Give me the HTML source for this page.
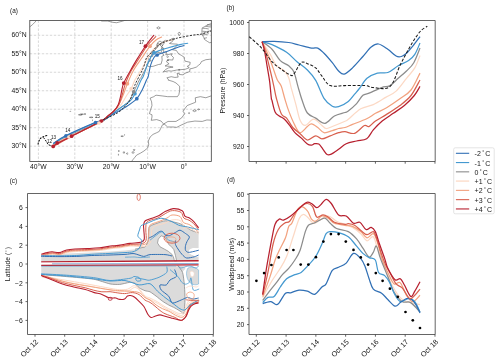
<!DOCTYPE html>
<html><head><meta charset="utf-8"><style>
html,body{margin:0;padding:0;background:#fff;}
svg{display:block;will-change:transform;}
text{font-family:"Liberation Sans", sans-serif;fill:#151515;}
</style></head><body>
<svg width="500" height="361" viewBox="0 0 500 361">
<rect width="500" height="361" fill="#fff"/>
<text x="10" y="13" font-size="6.4" text-anchor="start" >(a)</text>
<text x="226.6" y="10.2" font-size="6.4" text-anchor="start" >(b)</text>
<text x="9.7" y="182.7" font-size="6.4" text-anchor="start" >(c)</text>
<text x="227" y="181.5" font-size="6.4" text-anchor="start" >(d)</text>
<clipPath id="clipA"><rect x="29.8" y="20.5" width="181.5" height="141"/></clipPath>
<g clip-path="url(#clipA)">
<line x1="38.4" y1="20.5" x2="38.4" y2="161.5" stroke="#bdbdbd" stroke-width="0.6" stroke-dasharray="2.4,1.6"/>
<line x1="74.8" y1="20.5" x2="74.8" y2="161.5" stroke="#bdbdbd" stroke-width="0.6" stroke-dasharray="2.4,1.6"/>
<line x1="111.2" y1="20.5" x2="111.2" y2="161.5" stroke="#bdbdbd" stroke-width="0.6" stroke-dasharray="2.4,1.6"/>
<line x1="147.6" y1="20.5" x2="147.6" y2="161.5" stroke="#bdbdbd" stroke-width="0.6" stroke-dasharray="2.4,1.6"/>
<line x1="184" y1="20.5" x2="184" y2="161.5" stroke="#bdbdbd" stroke-width="0.6" stroke-dasharray="2.4,1.6"/>
<line x1="29.8" y1="146.2" x2="211.3" y2="146.2" stroke="#bdbdbd" stroke-width="0.6" stroke-dasharray="2.4,1.6"/>
<line x1="29.8" y1="127.71" x2="211.3" y2="127.71" stroke="#bdbdbd" stroke-width="0.6" stroke-dasharray="2.4,1.6"/>
<line x1="29.8" y1="109.23" x2="211.3" y2="109.23" stroke="#bdbdbd" stroke-width="0.6" stroke-dasharray="2.4,1.6"/>
<line x1="29.8" y1="90.74" x2="211.3" y2="90.74" stroke="#bdbdbd" stroke-width="0.6" stroke-dasharray="2.4,1.6"/>
<line x1="29.8" y1="72.26" x2="211.3" y2="72.26" stroke="#bdbdbd" stroke-width="0.6" stroke-dasharray="2.4,1.6"/>
<line x1="29.8" y1="53.77" x2="211.3" y2="53.77" stroke="#bdbdbd" stroke-width="0.6" stroke-dasharray="2.4,1.6"/>
<line x1="29.8" y1="35.29" x2="211.3" y2="35.29" stroke="#bdbdbd" stroke-width="0.6" stroke-dasharray="2.4,1.6"/>
<path d="M189.1,67.82 185.09,69.3 180.36,69.67 176.72,70.04 171.26,71.15 168.71,70.78 163.25,71.89 165.8,69.3 168.71,67.82 173.08,67.08 169.44,66.34 165.07,65.98 169.08,63.76 166.53,61.91 167.62,59.69 172.72,60.06 173.44,57.47 171.26,55.25 172.35,53.77 165.8,54.88 166.53,51.93 163.62,52.67 163.62,48.23 161.43,47.12 163.25,44.53 165.07,41.57 165.8,40.47 173.08,40.47 172.35,41.57 169.44,43.42 171.26,43.79 177.45,44.16 176.36,46.01 174.9,47.86 172.35,49.71 176.36,50.45 178.54,53.77 181.82,55.62 184.36,57.47 184.36,59.32 185.09,61.17 190.19,62.28 189.82,64.87 187.28,66.34 189.1,67.45Z" fill="none" stroke="#4d4d4d" stroke-width="0.55" stroke-linejoin="round"/>
<path d="M162.16,60.06 161.8,56.36 163.98,55.25 162.16,53.04 157.43,52.3 153.06,53.77 152.7,56.36 147.6,56.73 148.33,59.32 151.24,60.43 147.96,62.65 146.51,64.87 149.06,66.71 153.06,66.34 158.52,64.5 161.07,64.13Z" fill="none" stroke="#4d4d4d" stroke-width="0.55" stroke-linejoin="round"/>
<path d="M213.12,58.95 209.48,59.32 205.84,59.69 201.47,61.54 200.38,63.76 198.56,65.24 196.38,67.08 193.1,68.19 189.82,68.93 189.82,71.52 184.73,73.37 183.27,74.85 179.27,74.48 179.27,73.37 177.08,73.37 178.18,77.07 174.9,77.44 171.26,76.7 166.89,77.81 168.35,79.28 167.98,80.02 173.08,81.5 175.99,82.98 179.63,86.31 179.63,90.74 178.9,94.44 177.45,96.66 173.08,96.66 167.62,96.66 162.16,95.92 155.97,95.18 153.79,96.66 150.15,98.14 151.6,101.84 151.97,105.53 149.42,113.67 151.97,114.78 151.97,116.99 151.24,120.32 156.7,119.58 161.07,121.06 163.62,124.02 167.98,121.43 175.99,121.43 181.45,118.1 184.73,113.67 182.91,111.08 187.28,105.53 195.65,102.21 195.28,97.77 200.38,96.66 205.84,97.77 213.12,95.18" fill="none" stroke="#4d4d4d" stroke-width="0.55" stroke-linejoin="round"/>
<path d="M213.12,42.31 209.48,42.68 207.66,41.57 204.38,39.36 204.02,37.88 202.56,35.29 201.84,31.59 202.2,27.9 205.84,26.05 209.48,24.2 214.94,22.72 218.58,19.76" fill="none" stroke="#4d4d4d" stroke-width="0.55" stroke-linejoin="round"/>
<path d="M202.2,31.22 206.57,31.59 211.3,30.67" fill="none" stroke="#4d4d4d" stroke-width="0.55" stroke-linejoin="round"/>
<path d="M202.93,34.92 205.84,34.55 208.75,33.63" fill="none" stroke="#4d4d4d" stroke-width="0.55" stroke-linejoin="round"/>
<path d="M202.56,28.27 205.84,28.45 208.75,29.01" fill="none" stroke="#4d4d4d" stroke-width="0.55" stroke-linejoin="round"/>
<path d="M205.48,26.23 208.75,26.79 211.66,26.97" fill="none" stroke="#4d4d4d" stroke-width="0.55" stroke-linejoin="round"/>
<path d="M204.02,38.43 206.93,37.69" fill="none" stroke="#4d4d4d" stroke-width="0.55" stroke-linejoin="round"/>
<path d="M203.29,33.07 205.48,32.33" fill="none" stroke="#4d4d4d" stroke-width="0.55" stroke-linejoin="round"/>
<path d="M206.93,24.57 211.66,25.31" fill="none" stroke="#4d4d4d" stroke-width="0.55" stroke-linejoin="round"/>
<path d="M213.12,120.32 206.93,119.95 202.2,121.43 194.92,121.06 187.64,122.17 181.82,124.76 176.72,127.35 173.08,126.98 167.62,126.98 164.71,124.39 162.52,124.76 160.7,128.45 159.25,131.41 156.34,132.89 153.06,134.37 150.15,136.96 148.33,141.02 148.69,144.72 147.6,148.05 143.96,151.01 140.32,153.22 136.68,155.07 134.86,157.29 133.04,159.51 130.86,162.47" fill="none" stroke="#4d4d4d" stroke-width="0.55" stroke-linejoin="round"/>
<path d="M100.64,18.65 101.37,21.06 107.56,21.06 113.02,22.35 116.66,22.72 122.12,21.24 125.76,20.13 129.4,19.02" fill="none" stroke="#4d4d4d" stroke-width="0.55" stroke-linejoin="round"/>
<path d="M27.48,28.64 30.39,26.42 32.58,24.57 34.76,22.35 37.31,19.39" fill="none" stroke="#4d4d4d" stroke-width="0.55" stroke-linejoin="round"/>
<path d="M156.7,27.9 158.52,26.79 160.34,27.9 158.52,29.01Z" fill="none" stroke="#4d4d4d" stroke-width="0.55" stroke-linejoin="round"/>
<path d="M177.99,33.81 179.27,31.96 180.54,33.81 179.27,35.66Z" fill="none" stroke="#4d4d4d" stroke-width="0.55" stroke-linejoin="round"/>
<path d="M171.44,38.99 173.08,38.17 174.72,38.99 173.08,39.8Z" fill="none" stroke="#4d4d4d" stroke-width="0.55" stroke-linejoin="round"/>
<path d="M157.61,42.68 159.98,41.02 162.34,42.68 159.98,44.35Z" fill="none" stroke="#4d4d4d" stroke-width="0.55" stroke-linejoin="round"/>
<path d="M156.52,45.27 157.43,43.24 158.34,45.27 157.43,47.31Z" fill="none" stroke="#4d4d4d" stroke-width="0.55" stroke-linejoin="round"/>
<path d="M160.16,45.27 161.43,44.16 162.71,45.27 161.43,46.38Z" fill="none" stroke="#4d4d4d" stroke-width="0.55" stroke-linejoin="round"/>
<path d="M161.07,48.41 162.16,47.67 163.25,48.41 162.16,49.15Z" fill="none" stroke="#4d4d4d" stroke-width="0.55" stroke-linejoin="round"/>
<path d="M160.7,50.82 161.43,50.08 162.16,50.82 161.43,51.56Z" fill="none" stroke="#4d4d4d" stroke-width="0.55" stroke-linejoin="round"/>
<path d="M166.71,56.73 167.62,55.99 168.53,56.73 167.62,57.47Z" fill="none" stroke="#4d4d4d" stroke-width="0.55" stroke-linejoin="round"/>
<path d="M167.07,60.24 167.98,59.8 168.89,60.24 167.98,60.69Z" fill="none" stroke="#4d4d4d" stroke-width="0.55" stroke-linejoin="round"/>
<path d="M178.36,69.86 179.27,69.49 180.18,69.86 179.27,70.23Z" fill="none" stroke="#4d4d4d" stroke-width="0.55" stroke-linejoin="round"/>
<path d="M192.74,110.71 194.56,109.78 196.38,110.71 194.56,111.63Z" fill="none" stroke="#4d4d4d" stroke-width="0.55" stroke-linejoin="round"/>
<path d="M197.47,109.41 198.56,108.97 199.65,109.41 198.56,109.86Z" fill="none" stroke="#4d4d4d" stroke-width="0.55" stroke-linejoin="round"/>
<path d="M188.37,113.11 189.1,112.56 189.82,113.11 189.1,113.67Z" fill="none" stroke="#4d4d4d" stroke-width="0.55" stroke-linejoin="round"/>
<path d="M133.22,149.9 134.13,148.97 135.04,149.9 134.13,150.82Z" fill="none" stroke="#4d4d4d" stroke-width="0.55" stroke-linejoin="round"/>
<path d="M131.77,152.48 133.04,151.56 134.31,152.48 133.04,153.41Z" fill="none" stroke="#4d4d4d" stroke-width="0.55" stroke-linejoin="round"/>
<path d="M126.31,153.59 127.22,152.85 128.13,153.59 127.22,154.33Z" fill="none" stroke="#4d4d4d" stroke-width="0.55" stroke-linejoin="round"/>
<path d="M122.85,152.48 123.94,151.75 125.03,152.48 123.94,153.22Z" fill="none" stroke="#4d4d4d" stroke-width="0.55" stroke-linejoin="round"/>
<path d="M118.3,151.01 118.84,150.27 119.39,151.01 118.84,151.75Z" fill="none" stroke="#4d4d4d" stroke-width="0.55" stroke-linejoin="round"/>
<path d="M117.93,154.7 118.48,154.33 119.03,154.7 118.48,155.07Z" fill="none" stroke="#4d4d4d" stroke-width="0.55" stroke-linejoin="round"/>
<path d="M120.85,136.22 122.12,135.77 123.39,136.22 122.12,136.66Z" fill="none" stroke="#4d4d4d" stroke-width="0.55" stroke-linejoin="round"/>
<path d="M124.3,134.92 124.67,134.7 125.03,134.92 124.67,135.15Z" fill="none" stroke="#4d4d4d" stroke-width="0.55" stroke-linejoin="round"/>
<path d="M70.07,111.45 70.43,111.08 70.8,111.45 70.43,111.82Z" fill="none" stroke="#4d4d4d" stroke-width="0.55" stroke-linejoin="round"/>
<path d="M78.44,114.78 80.26,114.22 82.08,114.78 80.26,115.33Z" fill="none" stroke="#4d4d4d" stroke-width="0.55" stroke-linejoin="round"/>
<path d="M80.62,114.22 82.08,113.85 83.54,114.22 82.08,114.59Z" fill="none" stroke="#4d4d4d" stroke-width="0.55" stroke-linejoin="round"/>
<path d="M84.08,114.04 84.99,113.67 85.9,114.04 84.99,114.41Z" fill="none" stroke="#4d4d4d" stroke-width="0.55" stroke-linejoin="round"/>
<path d="M89.36,117.36 91.18,116.99 93,117.36 91.18,117.73Z" fill="none" stroke="#4d4d4d" stroke-width="0.55" stroke-linejoin="round"/>
<path d="M92.27,120.32 92.64,120.03 93,120.32 92.64,120.62Z" fill="none" stroke="#4d4d4d" stroke-width="0.55" stroke-linejoin="round"/>
<path d="M54,144.5C56.33,143.25 60.67,140.55 68,137C75.33,133.45 92,125.98 98,123.2C104,120.42 101.67,122 104,120.3C106.33,118.6 109.33,115.35 112,113C114.67,110.65 117.63,109 120,106.2C122.37,103.4 124.33,99.12 126.2,96.2C128.07,93.28 129.75,91.4 131.2,88.7C132.65,86 133.73,82.3 134.9,80C136.07,77.7 136.53,77.7 138.2,74.9C139.87,72.1 142.8,66.93 144.9,63.2C147,59.47 148.62,55.45 150.8,52.5C152.98,49.55 155.63,47.32 158,45.5C160.37,43.68 162.6,42.52 165,41.6C167.4,40.68 171.17,40.27 172.4,40" fill="none" stroke="#fcd9c5" stroke-width="1.1" stroke-linecap="round" />
<path d="M54,144.8C56.33,143.55 60.67,140.85 68,137.3C75.33,133.75 92,126.33 98,123.5C104,120.67 101.67,122.05 104,120.3C106.33,118.55 109.45,115.77 112,113C114.55,110.23 117.35,106.92 119.3,103.7C121.25,100.48 122.35,97.03 123.7,93.7C125.05,90.37 125.8,87.53 127.4,83.7C129,79.87 130.93,74.93 133.3,70.7C135.67,66.47 138.82,62.38 141.6,58.3C144.38,54.22 147.6,49.25 150,46.2C152.4,43.15 154.07,41.52 156,40C157.93,38.48 160.67,37.58 161.6,37.1" fill="none" stroke="#f2a27f" stroke-width="1.1" stroke-linecap="round" />
<path d="M54,144C56.08,142.75 59.42,139.93 66.5,136.5C73.58,133.07 90.25,126.07 96.5,123.4C102.75,120.73 100.52,122.73 104,120.5C107.48,118.27 113.28,113.22 117.4,110C121.52,106.78 125.98,104.23 128.7,101.2C131.42,98.17 131.93,95.33 133.7,91.8C135.47,88.27 137.98,82.55 139.3,80C140.62,77.45 140.12,79.3 141.6,76.5C143.08,73.7 146.47,66.95 148.2,63.2C149.93,59.45 150.73,56.37 152,54C153.27,51.63 154.47,50.67 155.8,49C157.13,47.33 158.47,45.42 160,44C161.53,42.58 164.17,41.08 165,40.5" fill="none" stroke="#8c8c8c" stroke-width="1.0" stroke-linecap="round" />
<path d="M53.8,143.6C55.83,142.33 59.03,139.47 66,136C72.97,132.53 89.27,125.47 95.6,122.8C101.93,120.13 100.37,122.13 104,120C107.63,117.87 113.08,113.13 117.4,110C121.72,106.87 126.98,103.92 129.9,101.2C132.82,98.48 133.03,97.23 134.9,93.7C136.77,90.17 139.72,82.87 141.1,80C142.48,77.13 142.05,79.33 143.2,76.5C144.35,73.67 146.87,65.92 148,63C149.13,60.08 149.08,60.58 150,59C150.92,57.42 151.83,54.95 153.5,53.5C155.17,52.05 157.4,51.3 160,50.3C162.6,49.3 165.77,48.45 169.1,47.5C172.43,46.55 176.9,45.3 180,44.6C183.1,43.9 186.42,43.52 187.7,43.3" fill="none" stroke="#4499d0" stroke-width="1.1" stroke-linecap="round" />
<path d="M53.5,143.2C55.58,141.93 58.98,139.08 66,135.6C73.02,132.12 89.27,124.97 95.6,122.3C101.93,119.63 100.98,121.03 104,119.6C107.02,118.17 110,115.83 113.7,113.7C117.4,111.57 122.35,109.3 126.2,106.8C130.05,104.3 134.1,101.6 136.8,98.7C139.5,95.8 140.78,92.52 142.4,89.4C144.02,86.28 145.53,82.15 146.5,80C147.47,77.85 147.5,79.02 148.2,76.5C148.9,73.98 149.73,68.07 150.7,64.9C151.67,61.73 152.93,59.15 154,57.5C155.07,55.85 155.27,55.92 157.1,55C158.93,54.08 162.3,52.98 165,52C167.7,51.02 170.8,50 173.3,49.1C175.8,48.2 178.22,47.2 180,46.6C181.78,46 183.33,45.68 184,45.5" fill="none" stroke="#3170b5" stroke-width="1.1" stroke-linecap="round" />
<path d="M53.2,146.4C56.27,144.73 63.6,140.6 71.6,136.4C79.6,132.2 95.13,124.6 101.2,121.2C107.27,117.8 105.87,117.7 108,116C110.13,114.3 112.17,112.92 114,111C115.83,109.08 117.67,107.08 119,104.5C120.33,101.92 121.2,98.08 122,95.5C122.8,92.92 123.13,91.25 123.8,89C124.47,86.75 124.8,85 126,82C127.2,79 129,74.67 131,71C133,67.33 135.47,64 138,60C140.53,56 144.03,50.08 146.2,47C148.37,43.92 149.4,43.22 151,41.5C152.6,39.78 155,37.5 155.8,36.7" fill="none" stroke="#d8604e" stroke-width="1.1" stroke-linecap="round" />
<path d="M53.2,146.6C53.87,146.05 54.13,145.03 57.2,143.3C60.27,141.57 64.27,139.92 71.6,136.2C78.93,132.48 95.22,124.33 101.2,121C107.18,117.67 105.42,117.83 107.5,116.2C109.58,114.57 111.93,113.08 113.7,111.2C115.47,109.32 116.95,107.4 118.1,104.9C119.25,102.4 119.98,98.68 120.6,96.2C121.22,93.72 121.28,92.18 121.8,90C122.32,87.82 122.35,86.18 123.7,83.1C125.05,80.02 127.75,75.37 129.9,71.5C132.05,67.63 134.02,64.12 136.6,59.9C139.18,55.68 142.55,50.28 145.4,46.2C148.25,42.12 152.32,37.2 153.7,35.4" fill="none" stroke="#b7202f" stroke-width="1.1" stroke-linecap="round" />
<path d="M100,121C102.9,119.67 113.03,115.68 117.4,113C121.77,110.32 123.9,107.48 126.2,104.9C128.5,102.32 129.75,100.82 131.2,97.5C132.65,94.18 132.9,89.88 134.9,85C136.9,80.12 141.23,72.78 143.2,68.2C145.17,63.62 145.15,60.27 146.7,57.5C148.25,54.73 150.85,53.42 152.5,51.6C154.15,49.78 155.08,47.98 156.6,46.6C158.12,45.22 159.78,44.27 161.6,43.3C163.42,42.33 165.55,41.48 167.5,40.8C169.45,40.12 171.22,39.75 173.3,39.2C175.38,38.65 176.58,38.2 180,37.5C183.42,36.8 190.13,35.58 193.8,35C197.47,34.42 199.13,34.67 202,34C204.87,33.33 209.5,31.5 211,31" fill="none" stroke="#222" stroke-width="0.9" stroke-dasharray="2.2,1.3"/>
<path d="M37.9,144.5C38.1,143.88 38.6,141.88 39.1,140.8C39.6,139.72 40.08,138.72 40.9,138C41.72,137.28 42.88,136.95 44,136.5C45.12,136.05 47,135.5 47.6,135.3" fill="none" stroke="#111" stroke-width="1.1" stroke-dasharray="1.9,1.1"/>
<path d="M43.5,137.5C43.92,138.08 45.22,139.83 46,141C46.78,142.17 47.32,143.72 48.2,144.5C49.08,145.28 50.47,145.38 51.3,145.7C52.13,146.02 52.88,146.28 53.2,146.4" fill="none" stroke="#111" stroke-width="1.0" stroke-dasharray="1.9,1.1"/>
<circle cx="66" cy="135.8" r="1.85" fill="#3170b5"/>
<circle cx="95.6" cy="122.5" r="1.85" fill="#3170b5"/>
<circle cx="69" cy="137" r="1.85" fill="#fcd9c5"/>
<circle cx="71.6" cy="136.2" r="1.85" fill="#b7202f"/>
<circle cx="101.2" cy="121" r="1.85" fill="#b7202f"/>
<circle cx="57.2" cy="142.9" r="1.85" fill="#b7202f"/>
<circle cx="53.2" cy="146.4" r="1.85" fill="#b7202f"/>
<circle cx="99" cy="123" r="1.85" fill="#fcd9c5"/>
<circle cx="136.8" cy="98.7" r="1.85" fill="#3170b5"/>
<circle cx="134.9" cy="93.7" r="1.85" fill="#4499d0"/>
<circle cx="133.7" cy="91.8" r="1.85" fill="#8c8c8c"/>
<circle cx="131.2" cy="88.7" r="1.85" fill="#fcd9c5"/>
<circle cx="127.4" cy="83.7" r="1.85" fill="#f2a27f"/>
<circle cx="123.7" cy="83.1" r="1.85" fill="#b7202f"/>
<circle cx="153" cy="52.5" r="1.85" fill="#8c8c8c"/>
<circle cx="154.1" cy="52.8" r="1.85" fill="#4499d0"/>
<circle cx="157.1" cy="55" r="1.85" fill="#3170b5"/>
<circle cx="150" cy="46.2" r="1.85" fill="#f2a27f"/>
<circle cx="145.4" cy="46.2" r="1.85" fill="#b7202f"/>
<text x="47" y="142.5" font-size="4.6" text-anchor="start" >12</text>
<text x="51" y="138.5" font-size="4.6" text-anchor="start" >13</text>
<text x="65.2" y="131.5" font-size="4.6" text-anchor="start" >14</text>
<text x="94.8" y="117.8" font-size="4.6" text-anchor="start" >15</text>
<text x="117.4" y="79.8" font-size="4.6" text-anchor="start" >16</text>
<text x="139" y="43.8" font-size="4.6" text-anchor="start" >17</text>
</g>
<rect x="29.8" y="20.5" width="181.5" height="141" fill="none" stroke="#3d3d3d" stroke-width="0.8"/>
<text x="26.6" y="148.4" font-size="6.8" text-anchor="end" >30°N</text>
<text x="26.6" y="129.91" font-size="6.8" text-anchor="end" >35°N</text>
<text x="26.6" y="111.43" font-size="6.8" text-anchor="end" >40°N</text>
<text x="26.6" y="92.94" font-size="6.8" text-anchor="end" >45°N</text>
<text x="26.6" y="74.46" font-size="6.8" text-anchor="end" >50°N</text>
<text x="26.6" y="55.97" font-size="6.8" text-anchor="end" >55°N</text>
<text x="26.6" y="37.49" font-size="6.8" text-anchor="end" >60°N</text>
<text x="38.4" y="168.8" font-size="6.8" text-anchor="middle" >40°W</text>
<text x="74.8" y="168.8" font-size="6.8" text-anchor="middle" >30°W</text>
<text x="111.2" y="168.8" font-size="6.8" text-anchor="middle" >20°W</text>
<text x="147.6" y="168.8" font-size="6.8" text-anchor="middle" >10°W</text>
<text x="184" y="168.8" font-size="6.8" text-anchor="middle" >0°</text>
<path d="M249,20.5 V161.5 H435.2 V20.5 H249 Z" fill="none" stroke="#3d3d3d" stroke-width="0.8"/>
<line x1="247" y1="22.5" x2="249" y2="22.5" stroke="#3d3d3d" stroke-width="0.8"/>
<text x="244.3" y="25.3" font-size="6.8" text-anchor="end" >1000</text>
<line x1="247" y1="53.5" x2="249" y2="53.5" stroke="#3d3d3d" stroke-width="0.8"/>
<text x="244.3" y="56.3" font-size="6.8" text-anchor="end" >980</text>
<line x1="247" y1="84.5" x2="249" y2="84.5" stroke="#3d3d3d" stroke-width="0.8"/>
<text x="244.3" y="87.3" font-size="6.8" text-anchor="end" >960</text>
<line x1="247" y1="115.5" x2="249" y2="115.5" stroke="#3d3d3d" stroke-width="0.8"/>
<text x="244.3" y="118.3" font-size="6.8" text-anchor="end" >940</text>
<line x1="247" y1="146.5" x2="249" y2="146.5" stroke="#3d3d3d" stroke-width="0.8"/>
<text x="244.3" y="149.3" font-size="6.8" text-anchor="end" >920</text>
<line x1="256.3" y1="161.5" x2="256.3" y2="163.7" stroke="#3d3d3d" stroke-width="0.8"/>
<line x1="286.08" y1="161.5" x2="286.08" y2="163.7" stroke="#3d3d3d" stroke-width="0.8"/>
<line x1="315.86" y1="161.5" x2="315.86" y2="163.7" stroke="#3d3d3d" stroke-width="0.8"/>
<line x1="345.64" y1="161.5" x2="345.64" y2="163.7" stroke="#3d3d3d" stroke-width="0.8"/>
<line x1="375.42" y1="161.5" x2="375.42" y2="163.7" stroke="#3d3d3d" stroke-width="0.8"/>
<line x1="405.2" y1="161.5" x2="405.2" y2="163.7" stroke="#3d3d3d" stroke-width="0.8"/>
<line x1="434.98" y1="161.5" x2="434.98" y2="163.7" stroke="#3d3d3d" stroke-width="0.8"/>
<text transform="translate(225.4,90.7) rotate(-90)" font-size="6.8" text-anchor="middle">Pressure (hPa)</text>
<clipPath id="clipB"><rect x="249" y="20.5" width="186.2" height="141"/></clipPath>
<g clip-path="url(#clipB)">
<path d="M262.1,41.7C263.48,43.85 268.03,50.65 270.4,54.6C272.77,58.55 273.93,62.63 276.3,65.4C278.67,68.17 282.53,69.13 284.6,71.2C286.67,73.27 287.6,75.03 288.7,77.8C289.8,80.57 290,83.33 291.2,87.8C292.4,92.27 294.42,99.2 295.9,104.6C297.38,110 298.53,116.73 300.1,120.2C301.67,123.67 303.05,125.57 305.3,125.4C307.55,125.23 310.83,119.2 313.6,119.2C316.37,119.2 319.82,123.85 321.9,125.4C323.98,126.95 324.37,128.32 326.1,128.5C327.83,128.68 329.15,127.7 332.3,126.5C335.45,125.3 342.33,122.52 345,121.3C347.67,120.08 345.67,121.28 348.3,119.2C350.93,117.12 356.63,111.23 360.8,108.8C364.97,106.37 369.15,106.5 373.3,104.6C377.45,102.7 381.9,99.65 385.7,97.4C389.5,95.15 392.63,94.28 396.1,91.1C399.57,87.92 403.38,82.17 406.5,78.3C409.62,74.43 412.55,71.72 414.8,67.9C417.05,64.08 419.13,57.48 420,55.4" fill="none" stroke="#fcd9c5" stroke-width="1.25" stroke-linejoin="round"/>
<path d="M262.1,41.7C263.08,43.85 266.18,50.23 268,54.6C269.82,58.97 271.48,63.75 273,67.9C274.52,72.05 275.73,76.47 277.1,79.5C278.47,82.53 279.95,83.02 281.2,86.1C282.45,89.18 283.35,93.87 284.6,98C285.85,102.13 286.98,106.33 288.7,110.9C290.42,115.47 293,121.77 294.9,125.4C296.8,129.03 298.02,132.52 300.1,132.7C302.18,132.88 305.5,127.98 307.4,126.5C309.3,125.02 309.77,123.63 311.5,123.8C313.23,123.97 315.72,126.02 317.8,127.5C319.88,128.98 321.58,132.18 324,132.7C326.42,133.22 329.87,131.3 332.3,130.6C334.73,129.9 336.48,129.02 338.6,128.5C340.72,127.98 342.68,128.18 345,127.5C347.32,126.82 348.88,125.85 352.5,124.4C356.12,122.95 362.87,120.65 366.7,118.8C370.53,116.95 372.18,115.15 375.5,113.3C378.82,111.45 382.53,110.12 386.6,107.7C390.67,105.28 395.83,101.75 399.9,98.8C403.97,95.85 407.65,94.28 411,90C414.35,85.72 418.5,75.92 420,73.1" fill="none" stroke="#f2a27f" stroke-width="1.25" stroke-linejoin="round"/>
<path d="M262.1,41.7C263.75,42.95 268.97,46.05 272,49.2C275.03,52.35 277.52,57.83 280.3,60.6C283.08,63.37 286.43,63.9 288.7,65.8C290.97,67.7 292.35,68.53 293.9,72C295.45,75.47 296.62,81.85 298,86.6C299.38,91.35 300.63,96.1 302.2,100.5C303.77,104.9 305.15,110.07 307.4,113C309.65,115.93 312.77,116.38 315.7,118.1C318.63,119.82 321.88,123.65 325,123.3C328.12,122.95 331.07,117.8 334.4,116C337.73,114.2 342.68,113.35 345,112.5C347.32,111.65 346.37,112.38 348.3,110.9C350.23,109.42 354.17,106.2 356.6,103.6C359.03,101 360.82,97.03 362.9,95.3C364.98,93.57 365.98,94.48 369.1,93.2C372.22,91.92 378.12,88.87 381.6,87.6C385.08,86.33 387.23,87.15 390,85.6C392.77,84.05 395.45,80.73 398.2,78.3C400.95,75.87 403.9,73.6 406.5,71C409.1,68.4 411.55,66.52 413.8,62.7C416.05,58.88 418.97,50.53 420,48.1" fill="none" stroke="#8c8c8c" stroke-width="1.25" stroke-linejoin="round"/>
<path d="M262.1,41.7C263.75,42.18 267.92,42.83 272,44.6C276.08,46.37 282.43,49.45 286.6,52.3C290.77,55.15 293.53,58.75 297,61.7C300.47,64.65 304.28,66.88 307.4,70C310.52,73.12 312.93,75.67 315.7,80.4C318.47,85.13 321.23,94.08 324,98.4C326.77,102.72 329.87,104.92 332.3,106.3C334.73,107.68 335.93,107.5 338.6,106.7C341.27,105.9 345.63,103.58 348.3,101.5C350.97,99.42 352.68,96.45 354.6,94.2C356.52,91.95 357.73,90.65 359.8,88C361.87,85.35 364.07,80.78 367,78.3C369.93,75.82 373.93,74.07 377.4,73.1C380.87,72.13 384.33,73.72 387.8,72.5C391.27,71.28 394.73,67.78 398.2,65.8C401.67,63.82 405.83,62.5 408.6,60.6C411.37,58.7 412.9,57.33 414.8,54.4C416.7,51.47 419.13,44.9 420,43" fill="none" stroke="#4499d0" stroke-width="1.25" stroke-linejoin="round"/>
<path d="M262.1,41.7C264.1,41.63 269.67,41.17 274.1,41.3C278.53,41.43 284.55,41.88 288.7,42.5C292.85,43.12 295.2,44.07 299,45C302.8,45.93 308.37,47.58 311.5,48.1C314.63,48.62 315.72,47.23 317.8,48.1C319.88,48.97 321.58,50.87 324,53.3C326.42,55.73 329.87,59.75 332.3,62.7C334.73,65.65 336.62,69.1 338.6,71C340.58,72.9 341.88,74.62 344.2,74.1C346.52,73.58 349.38,70.83 352.5,67.9C355.62,64.97 359.78,59.97 362.9,56.5C366.02,53.03 368.6,49.18 371.2,47.1C373.8,45.02 375.73,43.65 378.5,44C381.27,44.35 384.87,47.2 387.8,49.2C390.73,51.2 393.85,54.78 396.1,56C398.35,57.22 399.57,56.95 401.3,56.5C403.03,56.05 404.58,55.03 406.5,53.3C408.42,51.57 410.55,48.87 412.8,46.1C415.05,43.33 418.8,38.27 420,36.7" fill="none" stroke="#3170b5" stroke-width="1.25" stroke-linejoin="round"/>
<path d="M262.1,41.7C262.8,43.85 264.92,49.68 266.3,54.6C267.68,59.52 269.15,65.95 270.4,71.2C271.65,76.45 272.82,81.63 273.8,86.1C274.78,90.57 275.03,93.35 276.3,98C277.57,102.65 279.68,110.65 281.4,114C283.12,117.35 284.7,115.85 286.6,118.1C288.5,120.35 290.55,124.9 292.8,127.5C295.05,130.1 297.67,131.62 300.1,133.7C302.53,135.78 304.8,139.65 307.4,140C310,140.35 313.28,135.98 315.7,135.8C318.12,135.62 319.48,138.9 321.9,138.9C324.32,138.9 327.42,136.83 330.2,135.8C332.98,134.77 336.13,133.38 338.6,132.7C341.07,132.02 342.33,131.6 345,131.7C347.67,131.8 351.37,134.33 354.6,133.3C357.83,132.27 362.02,126.62 364.4,125.5C366.78,124.38 367.05,127.35 368.9,126.6C370.75,125.85 372.55,123.03 375.5,121C378.45,118.97 382.53,116.98 386.6,114.4C390.67,111.82 395.83,108.65 399.9,105.5C403.97,102.35 407.65,99.75 411,95.5C414.35,91.25 418.5,82.58 420,80" fill="none" stroke="#d8604e" stroke-width="1.25" stroke-linejoin="round"/>
<path d="M262.1,41.7C262.52,43.3 263.77,47.22 264.6,51.3C265.43,55.38 266.27,61.22 267.1,66.2C267.93,71.18 268.9,75.9 269.6,81.2C270.3,86.5 270.9,94.78 271.3,98C271.7,101.22 271.37,98.18 272,100.5C272.63,102.82 273.88,109.32 275.1,111.9C276.32,114.48 277.73,114.78 279.3,116C280.87,117.22 282.77,117.63 284.5,119.2C286.23,120.77 287.97,123.15 289.7,125.4C291.43,127.65 293,130.62 294.9,132.7C296.8,134.78 299.02,136 301.1,137.9C303.18,139.8 305.67,142.88 307.4,144.1C309.13,145.32 310.3,145.27 311.5,145.2C312.7,145.13 313.38,143.88 314.6,143.7C315.82,143.52 317.4,143.17 318.8,144.1C320.2,145.03 321.62,147.57 323,149.3C324.38,151.03 325.72,153.7 327.1,154.5C328.48,155.3 329.38,154.97 331.3,154.1C333.22,153.23 336.12,151.03 338.6,149.3C341.08,147.57 343.2,145.08 346.2,143.7C349.2,142.32 353.18,141.82 356.6,141C360.02,140.18 363.92,140.65 366.7,138.8C369.48,136.95 370.72,132.87 373.3,129.9C375.88,126.93 378.87,123.77 382.2,121C385.53,118.23 389.6,115.88 393.3,113.3C397,110.72 400.9,108.47 404.4,105.5C407.9,102.53 411.7,98.68 414.3,95.5C416.9,92.32 419.05,87.92 420,86.4" fill="none" stroke="#b7202f" stroke-width="1.25" stroke-linejoin="round"/>
<path d="M249.2,36.7C251.27,38.6 257.8,43.93 261.6,48.1C265.4,52.27 268.53,58.05 272,61.7C275.47,65.35 279.28,67.75 282.4,70C285.52,72.25 288.78,74.52 290.7,75.2C292.62,75.88 292.17,76.18 293.9,74.1C295.63,72.02 298.85,64.43 301.1,62.7C303.35,60.97 304.97,62.83 307.4,63.7C309.83,64.57 313.27,65.82 315.7,67.9C318.13,69.98 319.58,73.25 322,76.2C324.42,79.15 326.37,84.03 330.2,85.6C334.03,87.17 339.2,85.6 345,85.6C350.8,85.6 360.28,85.27 365,85.6C369.72,85.93 369.15,87.43 373.3,87.6C377.45,87.77 385.4,90.4 389.9,86.6C394.4,82.8 397.18,71.03 400.3,64.8C403.42,58.57 406.18,53.53 408.6,49.2C411.02,44.87 412.72,41.92 414.8,38.8C416.88,35.68 419.02,32.58 421.1,30.5C423.18,28.42 426.27,27 427.3,26.3" fill="none" stroke="#1a1a1a" stroke-width="1.05" stroke-dasharray="3,1.7"/>
</g>
<rect x="453.7" y="147.8" width="40.5" height="66" rx="1.5" fill="#fff" stroke="#d9d9d9" stroke-width="0.7"/>
<line x1="455.9" y1="153.3" x2="469.2" y2="153.3" stroke="#3170b5" stroke-width="1.1" stroke-opacity="1"/>
<text x="474.6" y="156.3" font-size="7">-2<tspan font-size="4.6" dy="-1.9" dx="1.3">°</tspan><tspan dy="1.9" dx="1.2">C</tspan></text>
<line x1="455.9" y1="162.57" x2="469.2" y2="162.57" stroke="#4499d0" stroke-width="1.1" stroke-opacity="1"/>
<text x="474.6" y="165.57" font-size="7">-1<tspan font-size="4.6" dy="-1.9" dx="1.3">°</tspan><tspan dy="1.9" dx="1.2">C</tspan></text>
<line x1="455.9" y1="171.84" x2="469.2" y2="171.84" stroke="#8c8c8c" stroke-width="1.1" stroke-opacity="1"/>
<text x="474.6" y="174.84" font-size="7">0<tspan font-size="4.6" dy="-1.9" dx="1.3">°</tspan><tspan dy="1.9" dx="1.2">C</tspan></text>
<line x1="455.9" y1="181.11" x2="469.2" y2="181.11" stroke="#fcd9c5" stroke-width="1.6" stroke-opacity="0.8"/>
<text x="474.6" y="184.11" font-size="7">+1<tspan font-size="4.6" dy="-1.9" dx="1.3">°</tspan><tspan dy="1.9" dx="1.2">C</tspan></text>
<line x1="455.9" y1="190.38" x2="469.2" y2="190.38" stroke="#f2a27f" stroke-width="1.1" stroke-opacity="1"/>
<text x="474.6" y="193.38" font-size="7">+2<tspan font-size="4.6" dy="-1.9" dx="1.3">°</tspan><tspan dy="1.9" dx="1.2">C</tspan></text>
<line x1="455.9" y1="199.65" x2="469.2" y2="199.65" stroke="#d8604e" stroke-width="1.1" stroke-opacity="1"/>
<text x="474.6" y="202.65" font-size="7">+3<tspan font-size="4.6" dy="-1.9" dx="1.3">°</tspan><tspan dy="1.9" dx="1.2">C</tspan></text>
<line x1="455.9" y1="208.92" x2="469.2" y2="208.92" stroke="#b7202f" stroke-width="1.8" stroke-opacity="0.6"/>
<text x="474.6" y="211.92" font-size="7">+4<tspan font-size="4.6" dy="-1.9" dx="1.3">°</tspan><tspan dy="1.9" dx="1.2">C</tspan></text>
<clipPath id="clipC"><rect x="27.5" y="193.5" width="185.9" height="141"/></clipPath>
<g clip-path="url(#clipC)">
<path d="M41.2,256.2 52,255 66.6,253.6 90,252.6 110,251.4 125,250.4 135,249.2 141,247.8 145.5,246.5 148.2,240 148.6,230 150,226.2 156.9,223.3 165.2,220.8 175,222.3 182.2,224.6 191.2,230.3 198.6,232.8 198.6,248 192,248.5 189,253 196,257 198.6,256.5 198.6,260.9 41.2,261.5Z" fill="#dbdbdb" stroke="none"/>
<path d="M135,249.2C135.8,249.01 139.6,248.16 141,247.8C142.4,247.44 144.54,247.54 145.5,246.5C146.46,245.46 147.79,242.2 148.2,240C148.61,237.8 148.36,231.84 148.6,230C148.84,228.16 148.89,227.09 150,226.2C151.11,225.31 154.87,224.02 156.9,223.3C158.93,222.58 162.79,220.93 165.2,220.8C167.61,220.67 172.73,221.79 175,222.3C177.27,222.81 180.04,223.53 182.2,224.6C184.36,225.67 189.01,229.21 191.2,230.3C193.39,231.39 197.61,232.47 198.6,232.8" fill="none" stroke="#8a8a8a" stroke-width="0.8"/>
<path d="M157.5,243 158.3,239.1 161.1,235.8 164.4,236.9 166.6,240.2 168.8,244.6 171.6,246.8 173.8,249.6 175.5,255.7 176.6,260.9 174.4,260.9 173.8,258 172.2,254.6 168.3,251.3 164.4,249.1 160,246.8Z" fill="#fff" stroke="#8a8a8a" stroke-width="0.7"/>
<path d="M189,250 C193,247 198.6,248 198.6,250 L198.6,255 C195,256 191,255 189,253Z" fill="#fff" stroke="none"/>
<path d="M41.2,265.6C54.86,265.58 163.66,264.71 177.8,265.4C191.94,266.09 181.95,270.64 182.6,272.5C183.25,274.36 184.07,281.75 184.3,284C184.53,286.25 184.84,293.16 184.9,295C184.96,296.84 184.96,300.9 184.9,302.4C184.84,303.9 184.42,308.87 184.3,310C184.18,311.13 184.01,313.52 183.7,313.7C183.39,313.88 182.08,312.37 181.2,311.8C180.32,311.23 176.15,308.68 174.9,308C173.65,307.32 169.94,305.68 168.7,305C167.46,304.32 163.75,302.08 162.5,301.2C161.25,300.32 157.45,297.14 156.2,296.2C154.95,295.26 151.12,292.35 150,291.8C148.88,291.25 146.09,291.1 145,290.7C143.91,290.3 140.17,288.58 139.1,287.8C138.03,287.02 135.27,283.44 134.3,282.9C133.33,282.36 130.86,282.25 129.4,282.4C127.94,282.55 121.64,284.25 119.7,284.4C117.76,284.55 112.61,284.42 110,283.9C107.39,283.38 97.94,279.93 93.6,279.2C89.26,278.47 71.84,277.06 66.6,276.6C61.36,276.14 43.74,274.8 41.2,274.6Z" fill="#dbdbdb" stroke="none"/>
<path d="M177.8,265.4C178.28,266.11 181.95,270.64 182.6,272.5C183.25,274.36 184.07,281.75 184.3,284C184.53,286.25 184.84,293.16 184.9,295C184.96,296.84 184.96,300.9 184.9,302.4C184.84,303.9 184.42,308.87 184.3,310C184.18,311.13 184.01,313.52 183.7,313.7C183.39,313.88 182.08,312.37 181.2,311.8C180.32,311.23 176.15,308.68 174.9,308C173.65,307.32 169.94,305.68 168.7,305C167.46,304.32 163.75,302.08 162.5,301.2C161.25,300.32 157.45,297.14 156.2,296.2C154.95,295.26 151.12,292.35 150,291.8C148.88,291.25 146.09,291.1 145,290.7C143.91,290.3 140.17,288.58 139.1,287.8C138.03,287.02 135.27,283.44 134.3,282.9C133.33,282.36 130.86,282.25 129.4,282.4C127.94,282.55 121.64,284.25 119.7,284.4C117.76,284.55 112.61,284.42 110,283.9C107.39,283.38 97.94,279.93 93.6,279.2C89.26,278.47 71.84,277.06 66.6,276.6C61.36,276.14 43.74,274.8 41.2,274.6" fill="none" stroke="#8a8a8a" stroke-width="0.8"/>
<path d="M188,268 C192,266 197,268 198.6,270 L198.6,284 C195,286 190,284 188,280 C186,276 186,271 188,268Z" fill="#dbdbdb" stroke="#4499d0" stroke-width="0.6" stroke-opacity="0.7"/>
<path d="M190,272 C192,270 195,272 194,275 C193,278 190,277 190,272Z" fill="#fff" stroke="#fcd9c5" stroke-width="0.6"/>
<path d="M42,256.8C42.77,256.58 44.8,255.9 46.6,255.5C48.4,255.1 50.55,254.45 52.8,254.4C55.05,254.35 57.67,255.5 60.1,255.2C62.53,254.9 64.8,253.2 67.4,252.6C70,252 72.23,251.83 75.7,251.6C79.17,251.37 84.05,251.4 88.2,251.2C92.35,251 96.45,250.87 100.6,250.4C104.75,249.93 109.73,248.85 113.1,248.4C116.47,247.95 117.85,248.1 120.8,247.7C123.75,247.3 127.1,246.2 130.8,246C134.5,245.8 139.8,247 143,246.5C146.2,246 148.58,244.92 150,243C151.42,241.08 151.17,237.33 151.5,235C151.83,232.67 151.25,230.58 152,229C152.75,227.42 154,226.42 156,225.5C158,224.58 161.33,224.42 164,223.5C166.67,222.58 169.33,220.5 172,220C174.67,219.5 178,219.5 180,220.5C182,221.5 182.17,224.67 184,226C185.83,227.33 188.57,227.17 191,228.5C193.43,229.83 197.33,233.08 198.6,234" fill="none" stroke="#fcd9c5" stroke-width="1.0" stroke-linejoin="round"/>
<path d="M41.7,256C42.47,255.78 44.5,255.1 46.3,254.7C48.1,254.3 50.25,253.65 52.5,253.6C54.75,253.55 57.37,254.7 59.8,254.4C62.23,254.1 64.5,252.4 67.1,251.8C69.7,251.2 71.93,251.03 75.4,250.8C78.87,250.57 83.75,250.6 87.9,250.4C92.05,250.2 96.15,250.07 100.3,249.6C104.45,249.13 109.43,248.05 112.8,247.6C116.17,247.15 117.55,247.3 120.5,246.9C123.45,246.5 126.92,245.52 130.5,245.2C134.08,244.88 139.08,245.62 142,245C144.92,244.38 146.87,243.67 148,241.5C149.13,239.33 148.55,234.58 148.8,232C149.05,229.42 148.8,227.42 149.5,226C150.2,224.58 151.42,224.25 153,223.5C154.58,222.75 156.67,222.42 159,221.5C161.33,220.58 164.83,219.08 167,218C169.17,216.92 169.83,215.25 172,215C174.17,214.75 178.08,215.25 180,216.5C181.92,217.75 181.83,221.08 183.5,222.5C185.17,223.92 187.48,223.42 190,225C192.52,226.58 197.17,230.83 198.6,232" fill="none" stroke="#f2a27f" stroke-width="1.0" stroke-linejoin="round"/>
<path d="M41.5,255.2C42.27,254.98 44.3,254.3 46.1,253.9C47.9,253.5 50.05,252.85 52.3,252.8C54.55,252.75 57.17,253.9 59.6,253.6C62.03,253.3 64.3,251.6 66.9,251C69.5,250.4 71.73,250.23 75.2,250C78.67,249.77 83.55,249.8 87.7,249.6C91.85,249.4 95.95,249.27 100.1,248.8C104.25,248.33 109.23,247.25 112.6,246.8C115.97,246.35 117.35,246.5 120.3,246.1C123.25,245.7 126.85,244.78 130.3,244.4C133.75,244.02 138.38,244.45 141,243.8C143.62,243.15 145.2,242.8 146,240.5C146.8,238.2 145.73,232.92 145.8,230C145.87,227.08 145.7,224.62 146.4,223C147.1,221.38 148.07,221.13 150,220.3C151.93,219.47 155.37,219.17 158,218C160.63,216.83 163.38,214.53 165.8,213.3C168.22,212.07 169.97,210.77 172.5,210.6C175.03,210.43 179.12,211.07 181,212.3C182.88,213.53 182.47,216.68 183.8,218C185.13,219.32 187.38,219.28 189,220.2C190.62,221.12 191.9,221.93 193.5,223.5C195.1,225.07 197.75,228.58 198.6,229.6" fill="none" stroke="#d8604e" stroke-width="1.0" stroke-linejoin="round"/>
<path d="M41.2,254.2C41.97,253.98 44,253.3 45.8,252.9C47.6,252.5 49.75,251.85 52,251.8C54.25,251.75 56.87,252.9 59.3,252.6C61.73,252.3 64,250.6 66.6,250C69.2,249.4 71.43,249.23 74.9,249C78.37,248.77 83.25,248.8 87.4,248.6C91.55,248.4 95.65,248.27 99.8,247.8C103.95,247.33 108.93,246.25 112.3,245.8C115.67,245.35 117.05,245.5 120,245.1C122.95,244.7 126.53,243.88 130,243.4C133.47,242.92 138.43,242.85 140.8,242.2C143.17,241.55 143.7,241.53 144.2,239.5C144.7,237.47 143.9,232.43 143.8,230C143.7,227.57 143.35,226.43 143.6,224.9C143.85,223.37 143.92,221.9 145.3,220.8C146.68,219.7 149.68,219.13 151.9,218.3C154.12,217.47 156.38,216.92 158.6,215.8C160.82,214.68 162.77,212.8 165.2,211.6C167.63,210.4 170.37,208.73 173.2,208.6C176.03,208.47 180.25,209.53 182.2,210.8C184.15,212.07 183.7,215 184.9,216.2C186.1,217.4 187.92,217.1 189.4,218C190.88,218.9 192.27,219.95 193.8,221.6C195.33,223.25 197.8,226.85 198.6,227.9" fill="none" stroke="#b7202f" stroke-width="1.1" stroke-linejoin="round"/>
<path d="M41.2,255.6C43.71,255.63 55.09,255.83 60,255.8C64.91,255.77 74,255.59 78,255.4C82,255.21 85.73,254.67 90,254.4C94.27,254.13 105.33,253.64 110,253.4C114.67,253.16 121.93,252.81 125,252.6C128.07,252.39 131.13,252.35 133,251.8C134.87,251.25 137.8,249.94 139,248.5C140.2,247.06 141.89,242.33 142,241C142.11,239.67 140.36,239.21 139.8,238.5C139.24,237.79 137.84,236.85 137.8,235.7C137.76,234.55 139.06,231.23 139.5,229.9C139.94,228.57 140.11,226.58 141.1,225.7C142.09,224.82 145.02,224.07 146.9,223.3C148.78,222.53 153.2,220.57 155.2,219.9C157.2,219.23 159.66,218.07 161.9,218.3C164.14,218.53 169.77,220.68 172,221.6C174.23,222.52 176.52,224.48 178.6,225.2C180.68,225.92 184.93,226.4 187.6,227C190.27,227.6 197.13,229.34 198.6,229.7" fill="none" stroke="#4499d0" stroke-width="1.0" stroke-linejoin="round"/>
<path d="M41.2,256.4C43.71,256.43 55.09,256.6 60,256.6C64.91,256.6 74,256.53 78,256.4C82,256.27 85.73,255.79 90,255.6C94.27,255.41 105.33,255.16 110,255C114.67,254.84 121.8,254.59 125,254.4C128.2,254.21 131.52,253.33 134,253.6C136.48,253.87 141.47,256.27 143.6,256.4C145.73,256.53 147.15,254.84 150,254.6C152.85,254.36 162.07,254.41 165,254.6C167.93,254.79 171.07,255.81 172,256" fill="none" stroke="#3170b5" stroke-width="1.0" stroke-linejoin="round"/>
<path d="M125,257.2C126.33,257.17 133,256.95 135,257C137,257.05 138,257.6 140,257.6C142,257.6 148.67,257.08 150,257" fill="none" stroke="#4499d0" stroke-width="0.7" stroke-linejoin="round"/>
<path d="M148.6,238.2C149.27,237.87 152.16,236.58 153.6,235.7C155.04,234.82 158.19,232.15 159.4,231.6C160.61,231.05 161.93,231.16 162.7,231.6C163.47,232.04 164.32,234.35 165.2,234.9C166.08,235.45 167.93,236.03 169.3,235.7C170.67,235.37 174.07,233.13 175.5,232.4C176.93,231.67 178.67,230.05 180,230.2C181.33,230.35 184.25,232.61 185.5,233.5C186.75,234.39 189.19,235.86 189.4,236.9C189.61,237.94 187.62,240.13 187.1,241.3C186.58,242.47 185.71,244.51 185.5,245.7C185.29,246.89 185.06,249.31 185.5,250.2C185.94,251.09 187.03,252.4 188.8,252.4C190.57,252.4 197.47,250.49 198.8,250.2" fill="none" stroke="#3170b5" stroke-width="1.0" stroke-linejoin="round"/>
<path d="M175.5,240C175.5,240.61 175.06,243.24 175.5,244.6C175.94,245.96 177.91,248.87 178.8,250.2C179.69,251.53 181.16,253.56 182.2,254.6C183.24,255.64 184.99,257.71 186.6,258C188.21,258.29 192.7,257.2 194.3,256.8C195.9,256.4 198.03,255.24 198.6,255" fill="none" stroke="#3170b5" stroke-width="1.0" stroke-linejoin="round"/>
<path d="M150,240.2C150.73,239.61 154.02,236.91 155.5,235.8C156.98,234.69 159.91,232.21 161.1,231.9C162.29,231.59 163.67,232.69 164.4,233.5C165.13,234.31 166.01,237.11 166.6,238C167.19,238.89 167.47,239.61 168.8,240.2C170.13,240.79 175.56,242.11 176.6,242.4" fill="none" stroke="#4499d0" stroke-width="0.8" stroke-linejoin="round"/>
<path d="M41.2,261.9 L198.6,260.8" fill="none" stroke="#b7202f" stroke-width="1.4"/>
<path d="M41.2,265.3 L198.6,264.8" fill="none" stroke="#b7202f" stroke-width="1.3"/>
<path d="M41.2,263.3 L198.6,262.6" fill="none" stroke="#fff" stroke-width="1.2"/>
<path d="M52,263.8 L198.6,263.5" fill="none" stroke="#3170b5" stroke-width="0.7" stroke-opacity="0.8"/>
<path d="M41.2,266.3 L176,266.0" fill="none" stroke="#4499d0" stroke-width="0.7" stroke-opacity="0.7"/>
<path d="M41.2,275.1C43.5,275.63 50.2,277.32 55,278.3C59.8,279.28 64.17,279.97 70,281C75.83,282.03 83.33,283.28 90,284.5C96.67,285.72 105.05,287.43 110,288.3C114.95,289.17 116.78,289.55 119.7,289.7C122.62,289.85 125.4,289.77 127.5,289.2C129.6,288.63 131.02,286.87 132.3,286.3C133.58,285.73 134.07,285.4 135.2,285.8C136.33,286.2 137.47,287 139.1,288.7C140.73,290.4 143.18,294.43 145,296C146.82,297.57 147.92,297.13 150,298.1C152.08,299.07 155,300.35 157.5,301.8C160,303.25 162.52,305.35 165,306.8C167.48,308.25 169.92,309.35 172.4,310.5C174.88,311.65 177.97,313.62 179.9,313.7C181.83,313.78 182.82,312.62 184,311C185.18,309.38 186,305.83 187,304C188,302.17 188.07,300.83 190,300C191.93,299.17 197.17,299.17 198.6,299" fill="none" stroke="#fcd9c5" stroke-width="1.0" stroke-linejoin="round"/>
<path d="M41.8,276.9C44.1,277.43 50.8,279.12 55.6,280.1C60.4,281.08 64.77,281.77 70.6,282.8C76.43,283.83 83.93,285.08 90.6,286.3C97.27,287.52 105.65,289.23 110.6,290.1C115.55,290.97 117.38,291.35 120.3,291.5C123.22,291.65 126,291.57 128.1,291C130.2,290.43 131.62,288.67 132.9,288.1C134.18,287.53 134.67,287.2 135.8,287.6C136.93,288 138.07,288.8 139.7,290.5C141.33,292.2 143.78,296.23 145.6,297.8C147.42,299.37 148.52,298.93 150.6,299.9C152.68,300.87 155.6,302.15 158.1,303.6C160.6,305.05 163.12,307.15 165.6,308.6C168.08,310.05 170.52,311.15 173,312.3C175.48,313.45 178.57,315.42 180.5,315.5C182.43,315.58 183.42,314.42 184.6,312.8C185.78,311.18 186.6,307.63 187.6,305.8C188.6,303.97 188.67,302.63 190.6,301.8C192.53,300.97 197.77,300.97 199.2,300.8" fill="none" stroke="#fcd9c5" stroke-width="1.0" stroke-linejoin="round"/>
<path d="M41.2,275.2C43.5,275.83 50.2,277.7 55,279C59.8,280.3 64.17,281.75 70,283C75.83,284.25 83.33,285.37 90,286.5C96.67,287.63 105.05,289.12 110,289.8C114.95,290.48 116.47,290.37 119.7,290.6C122.93,290.83 126.17,290.87 129.4,291.2C132.63,291.53 136.52,291.55 139.1,292.6C141.68,293.65 143.08,296.27 144.9,297.5C146.72,298.73 148.12,298.75 150,300C151.88,301.25 154.12,303.55 156.2,305C158.28,306.45 160.42,307.67 162.5,308.7C164.58,309.73 166.22,309.95 168.7,311.2C171.18,312.45 175.02,315.23 177.4,316.2C179.78,317.17 181.4,317.7 183,317C184.6,316.3 185.83,314.17 187,312C188.17,309.83 188.07,305.67 190,304C191.93,302.33 197.17,302.33 198.6,302" fill="none" stroke="#f2a27f" stroke-width="1.0" stroke-linejoin="round"/>
<path d="M41.2,275.3C42.67,275.75 46.47,276.78 50,278C53.53,279.22 58.25,281.33 62.4,282.6C66.55,283.87 71.08,284.73 74.9,285.6C78.72,286.47 82.18,287.03 85.3,287.8C88.42,288.57 90.83,289.53 93.6,290.2C96.37,290.87 99.17,291.55 101.9,291.8C104.63,292.05 107.68,291.57 110,291.7C112.32,291.83 113.37,292.28 115.8,292.6C118.23,292.92 121.85,293.6 124.6,293.6C127.35,293.6 129.88,292.43 132.3,292.6C134.72,292.77 137,293.37 139.1,294.6C141.2,295.83 143.08,298.7 144.9,300C146.72,301.3 148.32,301.37 150,302.4C151.68,303.43 153.33,304.85 155,306.2C156.67,307.55 158.33,309.25 160,310.5C161.67,311.75 162.52,312.55 165,313.7C167.48,314.85 172.2,316.27 174.9,317.4C177.6,318.53 179.35,320.73 181.2,320.5C183.05,320.27 184.53,318.42 186,316C187.47,313.58 187.9,308.33 190,306C192.1,303.67 197.17,302.67 198.6,302" fill="none" stroke="#d8604e" stroke-width="1.0" stroke-linejoin="round"/>
<path d="M41.2,275.6C42.67,276.15 46.47,277.5 50,278.9C53.53,280.3 58.25,282.62 62.4,284C66.55,285.38 71.08,286.28 74.9,287.2C78.72,288.12 82.18,288.63 85.3,289.5C88.42,290.37 90.83,291.58 93.6,292.4C96.37,293.22 99.47,293.53 101.9,294.4C104.33,295.27 106.52,297 108.2,297.6C109.88,298.2 110.73,297.93 112,298C113.27,298.07 114.52,297.77 115.8,298C117.08,298.23 118.23,299.25 119.7,299.4C121.17,299.55 123.3,299.47 124.6,298.9C125.9,298.33 126.53,296.57 127.5,296C128.47,295.43 129.27,295.33 130.4,295.5C131.53,295.67 132.85,296.02 134.3,297C135.75,297.98 137.5,299.82 139.1,301.4C140.7,302.98 142.45,304.35 143.9,306.5C145.35,308.65 146.62,312.47 147.8,314.3C148.98,316.13 149.8,317.18 151,317.5C152.2,317.82 153.5,316.63 155,316.2C156.5,315.77 158.33,314.9 160,314.9C161.67,314.9 163.13,315.68 165,316.2C166.87,316.72 168.92,317.38 171.2,318C173.48,318.62 176.83,319.58 178.7,319.9C180.57,320.22 181.15,320.52 182.4,319.9C183.65,319.28 185.15,317.85 186.2,316.2C187.25,314.55 187.88,311.67 188.7,310C189.52,308.33 190.05,307.25 191.1,306.2C192.15,305.15 193.75,304.23 195,303.7C196.25,303.17 198,303.12 198.6,303" fill="none" stroke="#b7202f" stroke-width="1.1" stroke-linejoin="round"/>
<path d="M41.2,273.8C44.59,273.99 59.61,274.69 66.6,275.2C73.59,275.71 87.81,276.89 93.6,277.6C99.39,278.31 105.15,280.41 110,280.5C114.85,280.59 126.8,278.83 130,278.3C133.2,277.77 132.8,276.61 134,276.5C135.2,276.39 138.07,276.97 139,277.5C139.93,278.03 141.27,280.03 141,280.5C140.73,280.97 137.67,281.33 137,281C136.33,280.67 134.93,278.2 136,278C137.07,277.8 143.21,279.21 145,279.5C146.79,279.79 147.53,280.49 149.4,280.2C151.27,279.91 156.68,278.34 159,277.3C161.32,276.26 165.76,273.83 166.8,272.4C167.84,270.97 166.8,267.37 166.8,266.6" fill="none" stroke="#4499d0" stroke-width="0.9" stroke-linejoin="round"/>
<path d="M41.2,274.4C44.59,274.61 59.61,275.41 66.6,276C73.59,276.59 87.81,278.13 93.6,278.8C99.39,279.47 105.81,280.77 110,281C114.19,281.23 121.12,279.98 125,280.5C128.88,281.02 135.77,284.47 139.1,284.9C142.43,285.33 147.55,282.86 150,283.7C152.45,284.54 155.5,289.36 157.5,291.2C159.5,293.04 163.01,295.93 165,297.5C166.99,299.07 170.41,301.51 172.4,303C174.39,304.49 178.23,307.77 179.9,308.7C181.57,309.63 183.55,310.49 184.9,310C186.25,309.51 188.17,306.33 190,305C191.83,303.67 197.45,300.67 198.6,300" fill="none" stroke="#4499d0" stroke-width="1.0" stroke-linejoin="round"/>
<path d="M174.6,269.5C174.85,270.41 177.11,274.9 176.5,276.3C175.89,277.7 171.37,278.84 170,280C168.63,281.16 167.53,284.33 166.2,285C164.87,285.67 160.67,284.33 160,285C159.33,285.67 160.04,288.51 161.2,290C162.36,291.49 167.21,294.47 168.7,296.2C170.19,297.93 170.73,302.49 172.4,303C174.07,303.51 179.2,300.73 181.2,300C183.2,299.27 185.83,297.63 187.4,297.5C188.97,297.37 191.51,298.93 193,299C194.49,299.07 197.85,298.13 198.6,298" fill="none" stroke="#3170b5" stroke-width="1.0" stroke-linejoin="round"/>
<path d="M170,269.6C171.04,270.51 176.24,274.72 177.8,276.4C179.36,278.08 180.66,281.16 181.7,282.2C182.74,283.24 184.56,284.2 185.6,284.2C186.64,284.2 188.78,283.03 189.5,282.2C190.22,281.37 190.49,276.96 191,278C191.51,279.04 192.21,288.53 193.3,290C194.39,291.47 198.41,289.13 199.2,289" fill="none" stroke="#4499d0" stroke-width="0.8" stroke-linejoin="round"/>
<path d="M178,266C178.4,266.27 179.93,267.93 181,268C182.07,268.07 184.8,266.77 186,266.5C187.2,266.23 188.67,265.8 190,266C191.33,266.2 194.85,268 196,268C197.15,268 198.25,266.27 198.6,266" fill="none" stroke="#4499d0" stroke-width="0.7" stroke-linejoin="round"/>
<path d="M185.6,299.7C186.67,299.83 189.73,300.33 192,300.5C194.27,300.67 198,300.67 199.2,300.7" fill="none" stroke="#d8604e" stroke-width="0.9" stroke-linejoin="round"/>
<path d="M186.5,293.9C187.08,293.58 188.75,291.98 190,292C191.25,292.02 193.5,292.83 194,294C194.5,295.17 194,298.33 193,299C192,299.67 189.08,298.85 188,298C186.92,297.15 186.75,294.58 186.5,293.9" fill="none" stroke="#f2a27f" stroke-width="0.8" stroke-linejoin="round"/>
<path d="M186,288C186.67,287.67 188.33,286.17 190,286C191.67,285.83 194.57,287 196,287C197.43,287 198.17,286.17 198.6,286" fill="none" stroke="#fcd9c5" stroke-width="0.8" stroke-linejoin="round"/>
<ellipse cx="172" cy="238.2" rx="8" ry="5" fill="none" stroke="#d8604e" stroke-width="0.9"/>
<ellipse cx="171" cy="239.5" rx="5" ry="2.6" fill="none" stroke="#f2a27f" stroke-width="0.8"/>
<ellipse cx="138.7" cy="197.2" rx="1.7" ry="3.3" fill="none" stroke="#d8604e" stroke-width="0.8"/>
<ellipse cx="110.2" cy="298.8" rx="2.0" ry="1.5" fill="none" stroke="#b7202f" stroke-width="0.8"/>
<path d="M183,229 C186,227 190,228 191,230" fill="none" stroke="#fcd9c5" stroke-width="0.8"/>
</g>
<path d="M27.5,193.5 V334.5 H213.4 V193.5 H27.5 Z" fill="none" stroke="#3d3d3d" stroke-width="0.8"/>
<line x1="25.5" y1="207.6" x2="27.5" y2="207.6" stroke="#3d3d3d" stroke-width="0.8"/>
<text x="22.8" y="210.4" font-size="6.8" text-anchor="end" >6</text>
<line x1="25.5" y1="226.4" x2="27.5" y2="226.4" stroke="#3d3d3d" stroke-width="0.8"/>
<text x="22.8" y="229.2" font-size="6.8" text-anchor="end" >4</text>
<line x1="25.5" y1="245.2" x2="27.5" y2="245.2" stroke="#3d3d3d" stroke-width="0.8"/>
<text x="22.8" y="248" font-size="6.8" text-anchor="end" >2</text>
<line x1="25.5" y1="264" x2="27.5" y2="264" stroke="#3d3d3d" stroke-width="0.8"/>
<text x="22.8" y="266.8" font-size="6.8" text-anchor="end" >0</text>
<line x1="25.5" y1="282.8" x2="27.5" y2="282.8" stroke="#3d3d3d" stroke-width="0.8"/>
<text x="22.8" y="285.6" font-size="6.8" text-anchor="end" >−2</text>
<line x1="25.5" y1="301.6" x2="27.5" y2="301.6" stroke="#3d3d3d" stroke-width="0.8"/>
<text x="22.8" y="304.4" font-size="6.8" text-anchor="end" >−4</text>
<line x1="25.5" y1="320.4" x2="27.5" y2="320.4" stroke="#3d3d3d" stroke-width="0.8"/>
<text x="22.8" y="323.2" font-size="6.8" text-anchor="end" >−6</text>
<text transform="translate(10.4,264) rotate(-90)" font-size="6.8" text-anchor="middle">Latitude (<tspan font-size="4.6" dy="-1.8" dx="0.9">°</tspan><tspan dy="1.8" dx="0.9">)</tspan></text>
<line x1="35" y1="334.5" x2="35" y2="336.7" stroke="#3d3d3d" stroke-width="0.8"/>
<text transform="translate(38.7,342.3) rotate(-45)" font-size="7.3" text-anchor="end">Oct 12</text>
<line x1="64.7" y1="334.5" x2="64.7" y2="336.7" stroke="#3d3d3d" stroke-width="0.8"/>
<text transform="translate(68.4,342.3) rotate(-45)" font-size="7.3" text-anchor="end">Oct 13</text>
<line x1="94.4" y1="334.5" x2="94.4" y2="336.7" stroke="#3d3d3d" stroke-width="0.8"/>
<text transform="translate(98.1,342.3) rotate(-45)" font-size="7.3" text-anchor="end">Oct 14</text>
<line x1="124.1" y1="334.5" x2="124.1" y2="336.7" stroke="#3d3d3d" stroke-width="0.8"/>
<text transform="translate(127.8,342.3) rotate(-45)" font-size="7.3" text-anchor="end">Oct 15</text>
<line x1="153.8" y1="334.5" x2="153.8" y2="336.7" stroke="#3d3d3d" stroke-width="0.8"/>
<text transform="translate(157.5,342.3) rotate(-45)" font-size="7.3" text-anchor="end">Oct 16</text>
<line x1="183.5" y1="334.5" x2="183.5" y2="336.7" stroke="#3d3d3d" stroke-width="0.8"/>
<text transform="translate(187.2,342.3) rotate(-45)" font-size="7.3" text-anchor="end">Oct 17</text>
<line x1="213.2" y1="334.5" x2="213.2" y2="336.7" stroke="#3d3d3d" stroke-width="0.8"/>
<text transform="translate(216.9,342.3) rotate(-45)" font-size="7.3" text-anchor="end">Oct 18</text>
<path d="M249,193.5 V334.5 H435.2 V193.5 H249 Z" fill="none" stroke="#3d3d3d" stroke-width="0.8"/>
<line x1="247" y1="324.6" x2="249" y2="324.6" stroke="#3d3d3d" stroke-width="0.8"/>
<text x="244.3" y="327.4" font-size="6.8" text-anchor="end" >20</text>
<line x1="247" y1="308.3" x2="249" y2="308.3" stroke="#3d3d3d" stroke-width="0.8"/>
<text x="244.3" y="311.1" font-size="6.8" text-anchor="end" >25</text>
<line x1="247" y1="292" x2="249" y2="292" stroke="#3d3d3d" stroke-width="0.8"/>
<text x="244.3" y="294.8" font-size="6.8" text-anchor="end" >30</text>
<line x1="247" y1="275.7" x2="249" y2="275.7" stroke="#3d3d3d" stroke-width="0.8"/>
<text x="244.3" y="278.5" font-size="6.8" text-anchor="end" >35</text>
<line x1="247" y1="259.4" x2="249" y2="259.4" stroke="#3d3d3d" stroke-width="0.8"/>
<text x="244.3" y="262.2" font-size="6.8" text-anchor="end" >40</text>
<line x1="247" y1="243.1" x2="249" y2="243.1" stroke="#3d3d3d" stroke-width="0.8"/>
<text x="244.3" y="245.9" font-size="6.8" text-anchor="end" >45</text>
<line x1="247" y1="226.8" x2="249" y2="226.8" stroke="#3d3d3d" stroke-width="0.8"/>
<text x="244.3" y="229.6" font-size="6.8" text-anchor="end" >50</text>
<line x1="247" y1="210.5" x2="249" y2="210.5" stroke="#3d3d3d" stroke-width="0.8"/>
<text x="244.3" y="213.3" font-size="6.8" text-anchor="end" >55</text>
<line x1="247" y1="194.2" x2="249" y2="194.2" stroke="#3d3d3d" stroke-width="0.8"/>
<text x="244.3" y="197" font-size="6.8" text-anchor="end" >60</text>
<text transform="translate(233.9,264.4) rotate(-90)" font-size="7" text-anchor="middle">Windspeed (m/s)</text>
<line x1="256.3" y1="334.5" x2="256.3" y2="336.7" stroke="#3d3d3d" stroke-width="0.8"/>
<text transform="translate(260,342.3) rotate(-45)" font-size="7.3" text-anchor="end">Oct 12</text>
<line x1="286.08" y1="334.5" x2="286.08" y2="336.7" stroke="#3d3d3d" stroke-width="0.8"/>
<text transform="translate(289.78,342.3) rotate(-45)" font-size="7.3" text-anchor="end">Oct 13</text>
<line x1="315.86" y1="334.5" x2="315.86" y2="336.7" stroke="#3d3d3d" stroke-width="0.8"/>
<text transform="translate(319.56,342.3) rotate(-45)" font-size="7.3" text-anchor="end">Oct 14</text>
<line x1="345.64" y1="334.5" x2="345.64" y2="336.7" stroke="#3d3d3d" stroke-width="0.8"/>
<text transform="translate(349.34,342.3) rotate(-45)" font-size="7.3" text-anchor="end">Oct 15</text>
<line x1="375.42" y1="334.5" x2="375.42" y2="336.7" stroke="#3d3d3d" stroke-width="0.8"/>
<text transform="translate(379.12,342.3) rotate(-45)" font-size="7.3" text-anchor="end">Oct 16</text>
<line x1="405.2" y1="334.5" x2="405.2" y2="336.7" stroke="#3d3d3d" stroke-width="0.8"/>
<text transform="translate(408.9,342.3) rotate(-45)" font-size="7.3" text-anchor="end">Oct 17</text>
<line x1="434.98" y1="334.5" x2="434.98" y2="336.7" stroke="#3d3d3d" stroke-width="0.8"/>
<text transform="translate(438.68,342.3) rotate(-45)" font-size="7.3" text-anchor="end">Oct 18</text>
<clipPath id="clipD"><rect x="249" y="193.5" width="186.2" height="141"/></clipPath>
<g clip-path="url(#clipD)">
<path d="M262.7,297.5C264.25,294.72 269.07,285.67 272,280.8C274.93,275.93 277.87,272.35 280.3,268.3C282.73,264.25 284.52,261.58 286.6,256.5C288.68,251.42 290.73,244.03 292.8,237.8C294.87,231.57 297.27,222.98 299,219.1C300.73,215.22 301.8,214.85 303.2,214.5C304.6,214.15 305.67,215.53 307.4,217C309.13,218.47 311.53,222.78 313.6,223.3C315.67,223.82 317.37,221.32 319.8,220.1C322.23,218.88 325.42,215.82 328.2,216C330.98,216.18 333.7,219.82 336.5,221.2C339.3,222.58 342.33,223.27 345,224.3C347.67,225.33 349.87,225.83 352.5,227.4C355.13,228.97 358.38,231.45 360.8,233.7C363.22,235.95 364.92,240.38 367,240.9C369.08,241.42 371.47,235.28 373.3,236.8C375.13,238.32 376.05,244.8 378,250C379.95,255.2 382.67,262.17 385,268C387.33,273.83 389.1,279.75 392,285C394.9,290.25 397.73,296.22 402.4,299.5C407.07,302.78 417.07,303.83 420,304.7" fill="none" stroke="#fcd9c5" stroke-width="1.25" stroke-linejoin="round"/>
<path d="M262.7,296.5C263.92,293.18 267.93,282.68 270,276.6C272.07,270.52 273.55,264.38 275.1,260C276.65,255.62 277.57,254 279.3,250.3C281.03,246.6 283.93,241.78 285.5,237.8C287.07,233.82 287.65,228.82 288.7,226.4C289.75,223.98 290.42,225.9 291.8,223.3C293.18,220.7 295.45,213.58 297,210.8C298.55,208.02 299.37,206.6 301.1,206.6C302.83,206.6 305.67,208.72 307.4,210.8C309.13,212.88 310.12,217.37 311.5,219.1C312.88,220.83 313.97,221.72 315.7,221.2C317.43,220.68 319.82,216.52 321.9,216C323.98,215.48 326.12,216.88 328.2,218.1C330.28,219.32 331.6,222.1 334.4,223.3C337.2,224.5 341.98,224.78 345,225.3C348.02,225.82 349.87,225.35 352.5,226.4C355.13,227.45 358.38,229.7 360.8,231.6C363.22,233.5 364.92,237.45 367,237.8C369.08,238.15 371.57,233 373.3,233.7C375.03,234.4 375.85,237.5 377.4,242C378.95,246.5 380.67,255.2 382.6,260.7C384.53,266.2 387.08,271.13 389,275C390.92,278.87 392.22,282.58 394.1,283.9C395.98,285.22 398.23,281 400.3,282.9C402.37,284.8 404.42,292.18 406.5,295.3C408.58,298.42 410.55,301.6 412.8,301.6C415.05,301.6 418.8,296.35 420,295.3" fill="none" stroke="#f2a27f" stroke-width="1.25" stroke-linejoin="round"/>
<path d="M262.7,300.5C263.57,299.3 265.65,296.23 267.9,293.3C270.15,290.37 273.78,286.02 276.2,282.9C278.62,279.78 280.32,277.03 282.4,274.6C284.48,272.17 286.62,270.73 288.7,268.3C290.78,265.87 293,263 294.9,260C296.8,257 298.37,255.03 300.1,250.3C301.83,245.57 303.92,235.77 305.3,231.6C306.68,227.43 307.02,226.68 308.4,225.3C309.78,223.92 311.7,224.17 313.6,223.3C315.5,222.43 317.9,220.97 319.8,220.1C321.7,219.23 323.27,217.57 325,218.1C326.73,218.63 328.28,221.57 330.2,223.3C332.12,225.03 333.48,227.12 336.5,228.5C339.52,229.88 344.95,229.87 348.3,231.6C351.65,233.33 354.17,236.13 356.6,238.9C359.03,241.67 360.82,245.18 362.9,248.2C364.98,251.22 367.37,256.3 369.1,257C370.83,257.7 372.08,254.22 373.3,252.4C374.52,250.58 375.2,245.07 376.4,246.1C377.6,247.13 378.6,253.52 380.5,258.6C382.4,263.68 385.55,271.03 387.8,276.6C390.05,282.17 391.57,287.83 394,292C396.43,296.17 399.62,299.83 402.4,301.6C405.18,303.37 407.77,300.87 410.7,302.6C413.63,304.33 418.45,310.43 420,312" fill="none" stroke="#8c8c8c" stroke-width="1.25" stroke-linejoin="round"/>
<path d="M262.7,302.6C263.57,301.73 266,298.43 267.9,297.4C269.8,296.37 272.03,298.13 274.1,296.4C276.17,294.67 278.22,289.95 280.3,287C282.38,284.05 284.17,280.77 286.6,278.7C289.03,276.63 292.48,275.63 294.9,274.6C297.32,273.57 299.02,273.9 301.1,272.5C303.18,271.1 304.97,268.87 307.4,266.2C309.83,263.53 313.28,260.2 315.7,256.5C318.12,252.8 320.17,247.8 321.9,244C323.63,240.2 324.72,235.77 326.1,233.7C327.48,231.63 328.12,231.78 330.2,231.6C332.28,231.42 335.58,231.73 338.6,232.6C341.62,233.47 345.3,234.55 348.3,236.8C351.3,239.05 354.17,243.33 356.6,246.1C359.03,248.87 360.82,251.48 362.9,253.4C364.98,255.32 367.03,256.5 369.1,257.6C371.17,258.7 373.73,257.52 375.3,260C376.87,262.48 376.93,269.9 378.5,272.5C380.07,275.1 382.8,273.87 384.7,275.6C386.6,277.33 388.33,279.95 389.9,282.9C391.47,285.85 392.37,290.18 394.1,293.3C395.83,296.42 397.88,300.73 400.3,301.6C402.72,302.47 406.18,298.5 408.6,298.5C411.02,298.5 412.9,299.35 414.8,301.6C416.7,303.85 419.13,310.27 420,312" fill="none" stroke="#4499d0" stroke-width="1.25" stroke-linejoin="round"/>
<path d="M262.7,303.7C263.22,303.52 264.42,302.95 265.8,302.6C267.18,302.25 269.27,301.25 271,301.6C272.73,301.95 274.82,304.53 276.2,304.7C277.58,304.87 277.75,304.5 279.3,302.6C280.85,300.7 283.6,294.93 285.5,293.3C287.4,291.67 288.45,293.33 290.7,292.8C292.95,292.27 296.22,290.37 299,290.1C301.78,289.83 304.8,290.5 307.4,291.2C310,291.9 312.18,295 314.6,294.3C317.02,293.6 319.98,288.73 321.9,287C323.82,285.27 324.37,286.67 326.1,283.9C327.83,281.13 330.22,273.17 332.3,270.4C334.38,267.63 336.28,268.52 338.6,267.3C340.92,266.08 343.72,265.42 346.2,263.1C348.68,260.78 351.07,254.15 353.5,253.4C355.93,252.65 358.88,256.47 360.8,258.6C362.72,260.73 363.62,262.85 365,266.2C366.38,269.55 367.72,274.88 369.1,278.7C370.48,282.52 371.22,286.67 373.3,289.1C375.38,291.53 379.18,291.57 381.6,293.3C384.02,295.03 385.55,297.35 387.8,299.5C390.05,301.65 393.02,305.68 395.1,306.2C397.18,306.72 398.4,303.88 400.3,302.6C402.2,301.32 404.6,299.02 406.5,298.5C408.4,297.98 410.13,298.47 411.7,299.5C413.27,300.53 414.52,302.45 415.9,304.7C417.28,306.95 419.32,311.62 420,313" fill="none" stroke="#3170b5" stroke-width="1.25" stroke-linejoin="round"/>
<path d="M262.7,295C263.57,291.25 266.17,281 267.9,272.5C269.63,264 271.37,251.17 273.1,244C274.83,236.83 276.4,232.95 278.3,229.5C280.2,226.05 282.6,224.68 284.5,223.3C286.4,221.92 287.8,223.12 289.7,221.2C291.6,219.28 293.82,214.4 295.9,211.8C297.98,209.2 300.28,206.98 302.2,205.6C304.12,204.22 305.67,203.33 307.4,203.5C309.13,203.67 311.05,204.35 312.6,206.6C314.15,208.85 314.97,215.62 316.7,217C318.43,218.38 321.08,214.9 323,214.9C324.92,214.9 326.3,215.78 328.2,217C330.1,218.22 331.6,220.98 334.4,222.2C337.2,223.42 342.68,224.05 345,224.3C347.32,224.55 346.7,223.53 348.3,223.7C349.9,223.87 352.52,224.17 354.6,225.3C356.68,226.43 358.73,228.93 360.8,230.5C362.87,232.07 364.92,234.52 367,234.7C369.08,234.88 371.73,231.08 373.3,231.6C374.87,232.12 375.02,234 376.4,237.8C377.78,241.6 380.05,249.87 381.6,254.4C383.15,258.93 384.32,261.98 385.7,265C387.08,268.02 388.17,269.35 389.9,272.5C391.63,275.65 394.02,281.3 396.1,283.9C398.18,286.5 400.15,285.67 402.4,288.1C404.65,290.53 407.53,297.3 409.6,298.5C411.67,299.7 413.07,296.87 414.8,295.3C416.53,293.73 419.13,290.13 420,289.1" fill="none" stroke="#d8604e" stroke-width="1.25" stroke-linejoin="round"/>
<path d="M262.7,294.3C263.22,290.67 264.93,278.22 265.8,272.5C266.67,266.78 266.87,265.78 267.9,260C268.93,254.22 270.8,243.75 272,237.8C273.2,231.85 273.88,227.42 275.1,224.3C276.32,221.18 277.9,219.8 279.3,219.1C280.7,218.4 281.6,220.62 283.5,220.1C285.4,219.58 288.12,217.9 290.7,216C293.28,214.1 296.4,210.95 299,208.7C301.6,206.45 304.22,203.37 306.3,202.5C308.38,201.63 309.77,202.63 311.5,203.5C313.23,204.37 315.13,207.52 316.7,207.7C318.27,207.88 319.33,205.98 320.9,204.6C322.47,203.22 324.37,199.58 326.1,199.4C327.83,199.22 329.22,200.9 331.3,203.5C333.38,206.1 336.12,212.92 338.6,215C341.08,217.08 343.72,214.62 346.2,216C348.68,217.38 351.23,222.27 353.5,223.3C355.77,224.33 357.72,221.17 359.8,222.2C361.88,223.23 364.1,228.63 366,229.5C367.9,230.37 369.65,227.05 371.2,227.4C372.75,227.75 373.92,228.83 375.3,231.6C376.68,234.37 377.93,239.5 379.5,244C381.07,248.5 383.32,254.55 384.7,258.6C386.08,262.65 386.07,264.77 387.8,268.3C389.53,271.83 393.02,278.07 395.1,279.8C397.18,281.53 398.75,277.83 400.3,278.7C401.85,279.57 402.67,282.05 404.4,285C406.13,287.95 408.97,295.37 410.7,296.4C412.43,297.43 413.25,293.63 414.8,291.2C416.35,288.77 419.13,283.37 420,281.8" fill="none" stroke="#b7202f" stroke-width="1.25" stroke-linejoin="round"/>
<circle cx="256.4" cy="280.8" r="1.35" fill="#000"/>
<circle cx="264.1" cy="273.1" r="1.35" fill="#000"/>
<circle cx="271.4" cy="265" r="1.35" fill="#000"/>
<circle cx="278.7" cy="257.4" r="1.35" fill="#000"/>
<circle cx="286.6" cy="250" r="1.35" fill="#000"/>
<circle cx="293.4" cy="250" r="1.35" fill="#000"/>
<circle cx="300.7" cy="264.6" r="1.35" fill="#000"/>
<circle cx="308.4" cy="264.6" r="1.35" fill="#000"/>
<circle cx="315.9" cy="257.2" r="1.35" fill="#000"/>
<circle cx="323.4" cy="241.6" r="1.35" fill="#000"/>
<circle cx="330.9" cy="234.1" r="1.35" fill="#000"/>
<circle cx="338.6" cy="234.1" r="1.35" fill="#000"/>
<circle cx="345.8" cy="241.6" r="1.35" fill="#000"/>
<circle cx="353.5" cy="249.9" r="1.35" fill="#000"/>
<circle cx="360.8" cy="257.4" r="1.35" fill="#000"/>
<circle cx="368.1" cy="264.6" r="1.35" fill="#000"/>
<circle cx="375.8" cy="273.1" r="1.35" fill="#000"/>
<circle cx="382.6" cy="280.8" r="1.35" fill="#000"/>
<circle cx="389.9" cy="288.7" r="1.35" fill="#000"/>
<circle cx="397.8" cy="296.8" r="1.35" fill="#000"/>
<circle cx="405.5" cy="312" r="1.35" fill="#000"/>
<circle cx="412.8" cy="320.3" r="1.35" fill="#000"/>
<circle cx="420" cy="328" r="1.35" fill="#000"/>
</g>
</svg>
</body></html>
